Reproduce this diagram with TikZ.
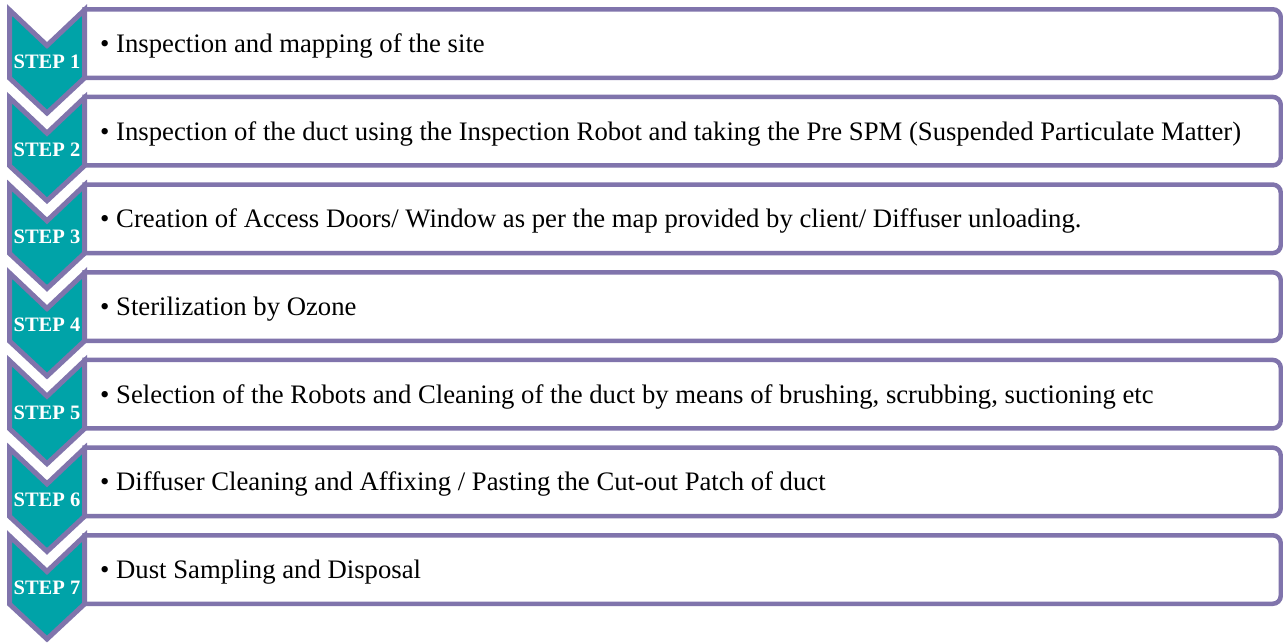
\documentclass[tikz,border=0pt]{standalone}
\usepackage{fontspec}
\setmainfont{Liberation Serif}
\definecolor{chevpurple}{RGB}{128,116,172}
\definecolor{chevteal}{RGB}{0,163,168}
\tikzset{
  stepbox/.style={draw=chevpurple, line width=4.5pt, fill=white},
  chevshape/.style={draw=chevpurple, line width=5pt, fill=chevteal, line join=miter},
  steplabel/.style={text=white, font=\fontsize{20.5}{22}\selectfont\bfseries, inner sep=0pt, anchor=base},
  steptext/.style={text=black, font=\fontsize{26.7}{28}\selectfont, inner sep=0pt, anchor=base west}
}
\begin{document}
\begin{tikzpicture}[x=1pt,y=-1pt]
\useasboundingbox[fill=white] (0,0) rectangle (1283,643);
\foreach \i/\txt in {
  1/{Inspection and mapping of the site},
  2/{Inspection of the duct using the Inspection Robot and taking the Pre SPM (Suspended Particulate Matter)},
  3/{Creation of Access Doors/ Window as per the map provided by client/ Diffuser unloading.},
  4/{Sterilization by Ozone},
  5/{Selection of the Robots and Cleaning of the duct by means of brushing, scrubbing, suctioning etc},
  6/{Diffuser Cleaning and Affixing / Pasting the Cut-out Patch of duct},
  7/{Dust Sampling and Disposal}}{
  \pgfmathsetmacro{\T}{7+87.67*(\i-1)}
  \draw[stepbox] (84.5,\T+2.25) -- (1272.75,\T+2.25)
     arc[start angle=270, end angle=360, radius=8] -- (1280.75,\T+62.75)
     arc[start angle=0, end angle=90, radius=8] -- (84.5,\T+70.75) -- cycle;
  \node[steptext] (t\i) at (100,\T+45.5) {• \txt};
  \draw[chevshape] (9.5,\T+3) -- (47,\T+38.5) -- (84.5,\T+3) -- (84.5,\T+71)
     -- (47,\T+106) -- (9.5,\T+71) -- cycle;
  \node[steplabel] (s\i) at (47,\T+61.5) {STEP \i};
}
\end{tikzpicture}
\end{document}
